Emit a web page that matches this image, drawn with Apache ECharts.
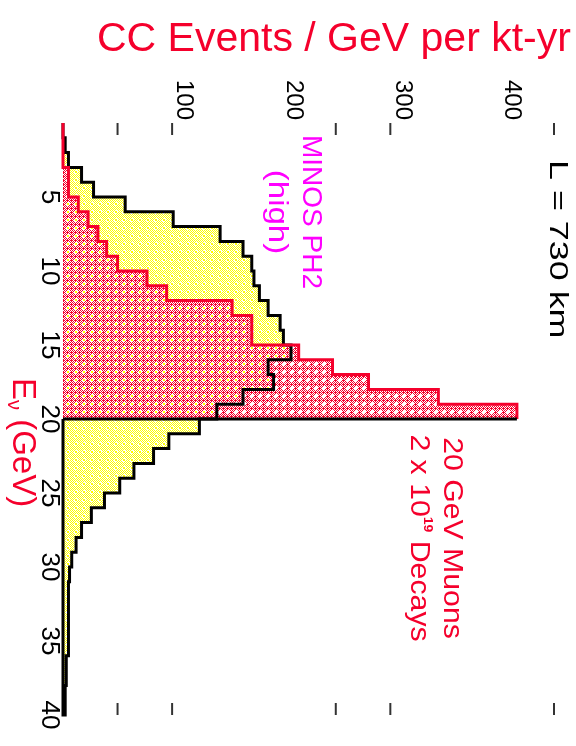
<!DOCTYPE html>
<html>
<head>
<meta charset="utf-8">
<script src="https://cdn.jsdelivr.net/npm/echarts@6/dist/echarts.min.js"></script>
<style>
  html, body { margin: 0; padding: 0; background: #ffffff; }
  #chart { width: 576px; height: 746px; }
</style>
</head>
<body>
<div id="chart"></div>
<script>
// Lower edges of the 1 GeV neutrino-energy bins (GeV)
const binLowEdges = [0, 1, 2, 3, 4, 5, 6, 7, 8, 9, 10, 11, 12, 13, 14, 15, 16, 17, 18, 19,
                     20, 21, 22, 23, 24, 25, 26, 27, 28, 29, 30, 31, 32, 33, 34, 35, 36, 37, 38, 39];
const binWidth = 1;

// CC events / GeV per kt-yr, MINOS PH2 high-energy beam
const minosPh2High = [0, 2, 5, 17, 28, 57, 101, 144, 165, 173, 175, 180, 188, 199, 202, 209, 188, 193, 165, 141,
                      125, 97, 83, 65, 52, 38, 26, 17, 12, 8, 6, 5, 5, 5, 5, 5, 3, 3, 2, 2];

// CC events / GeV per kt-yr, 20 GeV muons, 2 x 10^19 decays (spectrum ends at 20 GeV)
const muonBinLowEdges = [0, 1, 2, 3, 4, 5, 6, 7, 8, 9, 10, 11, 12, 13, 14, 15, 16, 17, 18, 19];
const muonDecays20GeV = [0, 0, 0, 5, 5, 14, 23, 32, 40, 50, 77, 95, 155, 173, 173, 216, 247, 280, 344, 416];

// Axis labels and tick marks
const eventLabels = [100, 200, 300, 400];
const energyLabels = [5, 10, 15, 20, 25, 30, 35, 40];
const eventTickMarks = [50, 100, 250, 300, 450];
const eventRange = [0, 450];
const energyRange = [0, 40];

const RED = '#f5002c';
const MAGENTA = '#ff00ff';
const FONT = '"Liberation Sans", Arial, sans-serif';

// Pixel dither textures for the two filled histograms
function makePattern(size, paint) {
  const c = document.createElement('canvas');
  c.width = c.height = size;
  const g = c.getContext('2d');
  for (let y = 0; y < size; y++) {
    for (let x = 0; x < size; x++) {
      const col = paint(x, y);
      if (col) { g.fillStyle = col; g.fillRect(x, y, 1, 1); }
    }
  }
  return c;
}
const yellowTexture = makePattern(8, (x, y) => {
  const d = Math.abs(x - 3.5) + Math.abs(y - 3.5);
  if (d < 2.5) return (x === 3 || x === 4) && (y === 3 || y === 4) ? '#ffff00' : '#ffffff';
  return (x + y) % 2 === 0 ? '#ffff00' : '#ffffff';
});
const redTexture = makePattern(8, (x, y) => {
  const d = Math.abs(x - 3.5) + Math.abs(y - 3.5);
  if (d < 1.5) return null;
  if (d < 2.5) return '#ffffff';
  if ((x + y) % 2 === 0) return RED;
  return (x % 4 === 3 && y % 4 === 0) ? RED : '#ffffff';
});

const minosData = binLowEdges.map((e, i) => [e, minosPh2High[i]]);
const muonData = muonBinLowEdges.map((e, i) => [e, muonDecays20GeV[i]]);

// Stepped outline through all bins of a series: each bin gives its two corners
function stepPoints(params, api) {
  const pts = [];
  for (let j = 0; j < params.dataInsideLength; j++) {
    const lo = api.value(0, j);
    const v = api.value(1, j);
    pts.push(api.coord([v, lo]), api.coord([v, lo + binWidth]));
  }
  return pts;
}
function lastEdge(params, api) {
  return api.value(0, params.dataInsideLength - 1) + binWidth;
}

function fillSeries(name, data, texture) {
  return {
    type: 'custom', name: name, data: data, silent: true,
    renderItem(params, api) {
      if (params.dataIndexInside !== 0) return null;
      const first = api.value(0, 0);
      const pts = [api.coord([0, first])].concat(stepPoints(params, api), [api.coord([0, lastEdge(params, api)])]);
      return { type: 'polygon', shape: { points: pts }, style: { fill: { image: texture, repeat: 'repeat' }, stroke: null } };
    }
  };
}

const option = {
  animation: false,
  backgroundColor: '#ffffff',
  grid: { left: 63, right: 22, top: 123, bottom: 31, containLabel: false },
  xAxis: {
    type: 'value', position: 'top', min: eventRange[0], max: eventRange[1], interval: 100,
    axisLine: { show: false }, axisTick: { show: false }, splitLine: { show: false },
    axisLabel: {
      rotate: -90, margin: 3, align: 'right', verticalAlign: 'bottom',
      fontSize: 24, fontFamily: FONT, color: '#000',
      formatter: v => (eventLabels.indexOf(v) >= 0 ? String(v) : '')
    }
  },
  yAxis: {
    type: 'value', inverse: true, min: energyRange[0], max: energyRange[1], interval: 5,
    axisLine: { show: false }, axisTick: { show: false }, splitLine: { show: false },
    axisLabel: {
      rotate: -90, margin: 1, align: 'center', verticalAlign: 'top',
      fontSize: 26, fontFamily: FONT, color: '#000',
      formatter: v => (energyLabels.indexOf(v) >= 0 ? String(v) : '')
    }
  },
  series: [
    fillSeries('MINOS PH2 (high)', minosData, yellowTexture),
    fillSeries('20 GeV Muons', muonData, redTexture),
    {
      // black outline of the MINOS histogram, closed along the axis below 20 GeV
      type: 'custom', data: minosData, silent: true,
      renderItem(params, api) {
        if (params.dataIndexInside !== 0) return null;
        const end = lastEdge(params, api);
        const muonEnd = muonBinLowEdges[muonBinLowEdges.length - 1] + binWidth;
        const pts = stepPoints(params, api).concat([api.coord([0, end]), api.coord([0, muonEnd])]);
        return { type: 'polyline', shape: { points: pts }, style: { stroke: '#000', lineWidth: 3, fill: null } };
      }
    },
    {
      // red outline of the muon-decay histogram, black closing edge at its upper end
      type: 'custom', data: muonData, silent: true,
      renderItem(params, api) {
        if (params.dataIndexInside !== 0) return null;
        const pts = [api.coord([0, api.value(0, 0)])].concat(stepPoints(params, api));
        const n = params.dataInsideLength - 1;
        const end = lastEdge(params, api);
        return {
          type: 'group', children: [
            { type: 'polyline', shape: { points: pts }, style: { stroke: RED, lineWidth: 3, fill: null } },
            { type: 'polyline', shape: { points: [api.coord([api.value(1, n), end]), api.coord([0, end])] },
              style: { stroke: '#000', lineWidth: 3, fill: null } }
          ]
        };
      }
    },
    {
      // short tick marks on both edges of the event axis
      type: 'custom', data: eventTickMarks.map(v => [v]), silent: true,
      renderItem(params, api) {
        const v = api.value(0);
        const top = api.coord([v, energyRange[0]]);
        const bot = api.coord([v, energyRange[1]]);
        return {
          type: 'group', children: [
            { type: 'line', shape: { x1: top[0], y1: top[1], x2: top[0], y2: top[1] + 12 }, style: { stroke: '#333', lineWidth: 2 } },
            { type: 'line', shape: { x1: bot[0], y1: bot[1] - 12, x2: bot[0], y2: bot[1] }, style: { stroke: '#333', lineWidth: 2 } }
          ]
        };
      }
    }
  ],
  graphic: [
    { type: 'text', x: 97, y: 40, scaleX: 1.025, style: { text: 'CC Events / GeV per kt-yr', font: '40px ' + FONT, fill: RED, align: 'left', verticalAlign: 'middle' } },
    { type: 'text', x: 557, y: 160, rotation: -Math.PI / 2, scaleX: 1.38, style: { text: 'L = 730 km', font: '26px ' + FONT, fill: '#000', align: 'left', verticalAlign: 'middle' } },
    { type: 'text', x: 311, y: 212, rotation: -Math.PI / 2, style: { text: 'MINOS PH2', font: '28px ' + FONT, fill: MAGENTA, align: 'center', verticalAlign: 'middle' } },
    { type: 'text', x: 277, y: 212, rotation: -Math.PI / 2, scaleX: 1.18, style: { text: '(high)', font: '28px ' + FONT, fill: MAGENTA, align: 'center', verticalAlign: 'middle' } },
    { type: 'text', x: 452, y: 538, rotation: -Math.PI / 2, scaleX: 1.08, style: { text: '20 GeV Muons', font: '28px ' + FONT, fill: RED, align: 'center', verticalAlign: 'middle' } },
    { type: 'text', x: 419, y: 538, rotation: -Math.PI / 2, scaleX: 1.08, style: {
        text: '{m|2 x 10}{s|19}{m| Decays}', fill: RED, align: 'center', verticalAlign: 'middle',
        rich: {
          m: { fontSize: 28, fontFamily: FONT, fill: RED, lineHeight: 30 },
          s: { fontSize: 13, fontWeight: 'bold', fontFamily: FONT, fill: RED, verticalAlign: 'top', lineHeight: 30 }
        } } },
    { type: 'text', x: 22, y: 378, rotation: -Math.PI / 2, style: {
        text: '{b|E}{n|ν}{b| (GeV)}', fill: RED, align: 'left', verticalAlign: 'middle',
        rich: {
          b: { fontSize: 33, fontFamily: FONT, fill: RED, lineHeight: 36 },
          n: { fontSize: 20, fontFamily: FONT, fill: RED, verticalAlign: 'bottom', lineHeight: 36 }
        } } }
  ]
};

const chart = echarts.init(document.getElementById('chart'), null, { renderer: 'canvas' });
chart.setOption(option);
</script>
</body>
</html>
